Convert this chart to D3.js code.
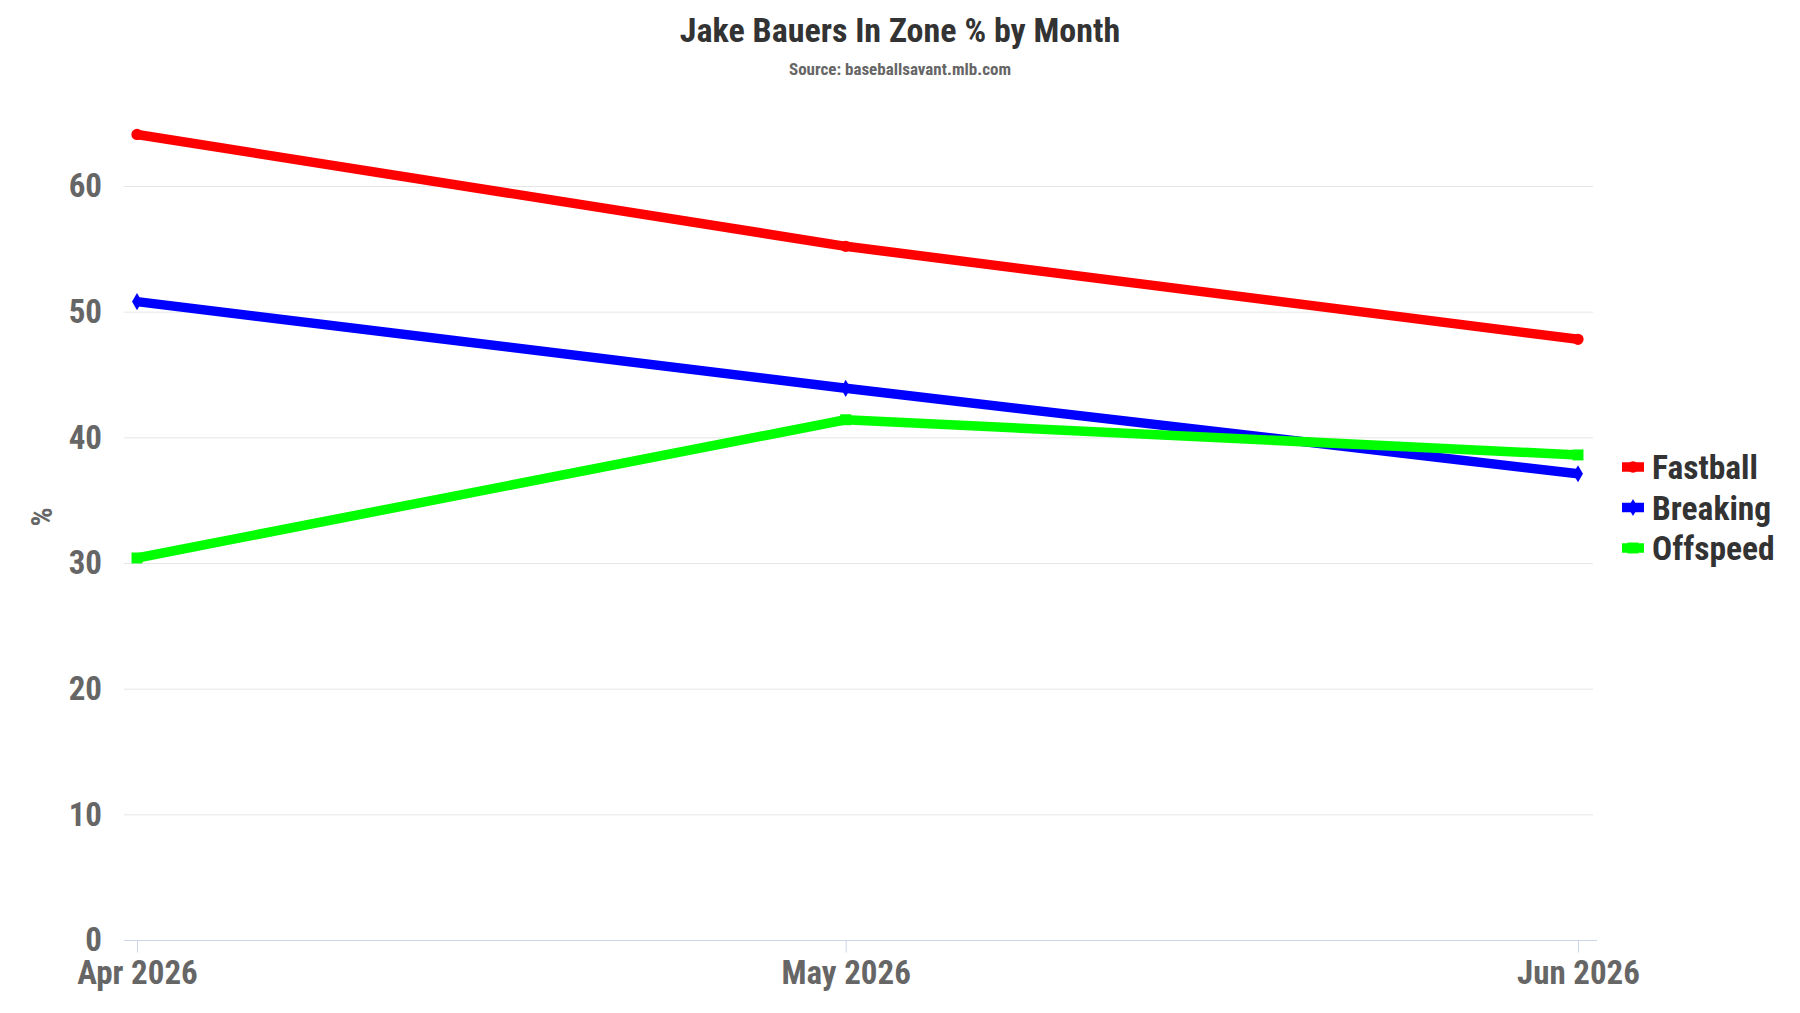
<!DOCTYPE html>
<html>
<head>
<meta charset="utf-8">
<script src="https://cdn.jsdelivr.net/npm/d3@7"></script>
<style>
  html, body { margin: 0; padding: 0; background: #fff; }
  svg { display: block; font-family: "Roboto Condensed", "Roboto", sans-serif; font-stretch: condensed; }
</style>
</head>
<body>
<script>
// data
const months = ['2026-04-01', '2026-05-01', '2026-06-01'];
const seriesNames = ['Fastball', 'Breaking', 'Offspeed'];
const fastball = [64.1, 55.2, 47.8];
const breaking = [50.8, 43.9, 37.1];
const offspeed = [30.4, 41.4, 38.6];
const seriesColors = ['#ff0000', '#0000ff', '#00ff00'];
const seriesMarkers = ['circle', 'diamond', 'square'];
const yTicks = [0, 10, 20, 30, 40, 50, 60];

const width = 1800, height = 1013;
const plot = { left: 124, right: 1593, top: 100, bottom: 940 };

const dates = months.map(m => new Date(m + 'T00:00:00Z'));
const series = [fastball, breaking, offspeed].map((vals, i) => ({
  name: seriesNames[i],
  color: seriesColors[i],
  marker: seriesMarkers[i],
  points: vals.map((v, j) => ({ date: dates[j], value: v }))
}));

const svg = d3.select('body').append('svg')
  .attr('width', width)
  .attr('height', height)
  .attr('viewBox', [0, 0, width, height]);

const x = d3.scaleUtc()
  .domain(d3.extent(dates))
  .range([137, 1578]);

const y = d3.scaleLinear()
  .domain([0, 60])
  .range([plot.bottom, 186]);

// title
svg.append('text')
  .attr('x', width / 2)
  .attr('y', 42)
  .attr('text-anchor', 'middle')
  .attr('fill', '#333')
  .style('font-size', '34px')
  .style('font-weight', 'bold')
  .text('Jake Bauers In Zone % by Month');

svg.append('text')
  .attr('x', width / 2)
  .attr('y', 75)
  .attr('text-anchor', 'middle')
  .attr('fill', '#666')
  .style('font-size', '17px')
  .style('font-weight', 'bold')
  .text('Source: baseballsavant.mlb.com');

// grid
svg.append('g')
  .selectAll('line')
  .data(yTicks.filter(d => d > 0))
  .join('line')
  .attr('x1', plot.left)
  .attr('x2', plot.right)
  .attr('y1', d => y(d) + 0.5)
  .attr('y2', d => y(d) + 0.5)
  .attr('stroke', '#e6e6e6')
  .attr('stroke-width', 1);

// y labels
const axisY = svg.append('g')
  .attr('transform', 'translate(' + (plot.left - 22) + ',0)')
  .call(d3.axisLeft(y).tickValues(yTicks).tickSize(0).tickPadding(0))
  .attr('font-family', null)
  .attr('font-size', null);
axisY.select('.domain').remove();
axisY.selectAll('text')
  .attr('fill', '#666')
  .attr('dy', '0.33em')
  .style('font-size', '33px')
  .style('font-weight', 'bold');

svg.append('text')
  .attr('transform', 'translate(' + 52 + ' ' + 517 + ') rotate(-90)')
  .attr('text-anchor', 'middle')
  .attr('fill', '#666')
  .style('font-size', '30px')
  .style('font-weight', 'bold')
  .text('%');

// x axis
svg.append('line')
  .attr('x1', plot.left)
  .attr('x2', plot.right + 4)
  .attr('y1', plot.bottom + 0.5)
  .attr('y2', plot.bottom + 0.5)
  .attr('stroke', '#ccd6eb');

const axisX = svg.append('g')
  .attr('transform', 'translate(0,' + (plot.bottom + 0.5) + ')')
  .call(d3.axisBottom(x).tickValues(dates).tickFormat(d3.utcFormat('%b %Y')).tickSize(12).tickPadding(8))
  .attr('font-family', null)
  .attr('font-size', null);
axisX.select('.domain').remove();
axisX.selectAll('.tick line').attr('stroke', '#ccd6eb');
axisX.selectAll('text')
  .attr('fill', '#666')
  .style('font-size', '33px')
  .style('font-weight', 'bold');

// lines
const line = d3.line()
  .x(d => x(d.date))
  .y(d => y(d.value));

const symbolType = { circle: d3.symbolCircle, diamond: d3.symbolDiamond, square: d3.symbolSquare };
const symbolSize = { circle: 100, diamond: 85, square: 120 };

const seriesG = svg.append('g')
  .selectAll('g')
  .data(series)
  .join('g');

seriesG.append('path')
  .attr('d', d => line(d.points))
  .attr('fill', 'none')
  .attr('stroke', d => d.color)
  .attr('stroke-width', 9.5)
  .attr('stroke-linejoin', 'round');

seriesG.each(function (s) {
  d3.select(this).selectAll('path.marker')
    .data(s.points)
    .join('path')
    .classed('marker', true)
    .attr('transform', d => 'translate(' + x(d.date) + ' ' + y(d.value) + ')')
    .attr('d', d3.symbol(symbolType[s.marker], symbolSize[s.marker]))
    .attr('fill', s.color);
});

// legend
const legend = svg.append('g')
  .selectAll('g')
  .data(series)
  .join('g')
  .attr('transform', (d, i) => 'translate(1622 ' + (467 + i * 40.5) + ')');

legend.append('line')
  .attr('x1', 0)
  .attr('x2', 22)
  .attr('stroke', d => d.color)
  .attr('stroke-width', 9.5);

legend.append('path')
  .attr('transform', 'translate(11 0)')
  .attr('d', d => d3.symbol(symbolType[d.marker], symbolSize[d.marker])())
  .attr('fill', d => d.color);

legend.append('text')
  .attr('x', 30)
  .attr('dy', '0.36em')
  .attr('fill', '#333')
  .style('font-size', '33.5px')
  .style('font-weight', 'bold')
  .text(d => d.name);
</script>
</body>
</html>
